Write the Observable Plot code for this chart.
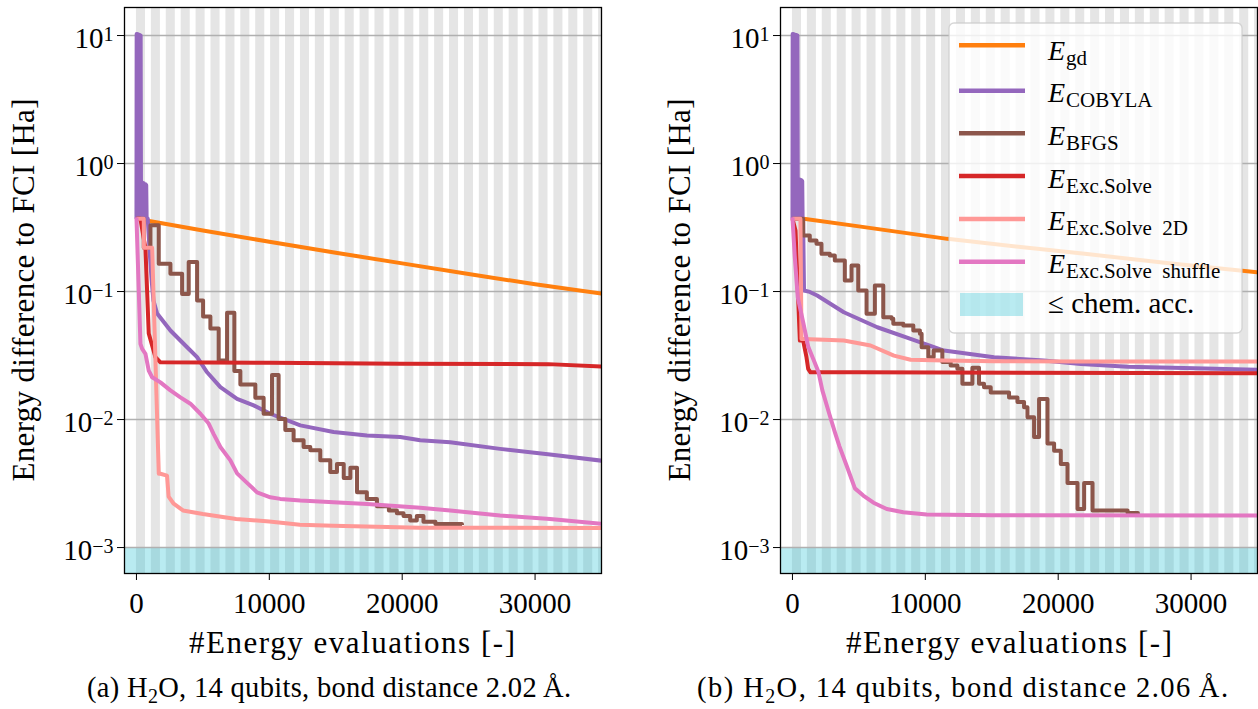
<!DOCTYPE html>
<html><head><meta charset="utf-8">
<script src="https://cdn.jsdelivr.net/npm/d3@7"></script>
<script src="https://cdn.jsdelivr.net/npm/@observablehq/plot@0.6"></script>
<style>
body{margin:0;background:#fff;}
#fig{position:relative;width:1258px;height:709px;overflow:hidden;}
#fig > svg{position:absolute;top:0;}
#fig svg, #fig svg text, #fig svg tspan{font-family:"Liberation Serif", serif !important;}
</style>
</head><body>
<div id="fig"></div>
<script>
const FONT = '"Liberation Serif", serif';
const xDomain = [-900, 35000];
const yDomain = [6.27e-4, 16.56];
const xTicks = [0, 10000, 20000, 30000];
const yTicks = [10, 1, 0.1, 0.01, 0.001];
const chemAcc = 0.001;
const stripeStarts = [0,1122,2244,3366,4488,5610,6732,7854,8976,10098,11220,12342,13464,14586,15708,16830,17952,19074,20196,21318,22440,23562,24684,25806,26928,28050,29172,30294,31416,32538,33660,34782];
const stripeWidth = 680;

const names = ["gd","COBYLA","BFGS","Exc.Solve","Exc.Solve 2D","Exc.Solve shuffle"];
const colors = ["#ff7f0e","#9467bd","#8c564b","#d62728","#ff9896","#e377c2"];

// ---------- panel (a) ----------
const gdA = [[0,0.37],[5000,0.3],[10000,0.245],[15000,0.201],[20000,0.166],[25000,0.137],[30000,0.114],[35000,0.0964]];
const cobylaA = [[0,0.37],[15,10.3],[45,0.37],[75,10.25],[105,0.37],[135,10.2],[165,0.37],[195,10.15],[225,0.37],[255,10.1],[285,0.37],[315,10.0],[345,0.37],[375,0.72],[405,0.37],[435,0.71],[465,0.37],[495,0.7],[525,0.37],[555,0.7],[585,0.37],[615,0.69],[645,0.37],[675,0.69],[705,0.37],[735,0.68],[765,0.38],[850,0.37],[1000,0.2],[1150,0.12],[1278,0.0851],[1556,0.0673],[2556,0.0496],[3812,0.0367],[4564,0.0307],[5316,0.0234],[6316,0.0179],[7571,0.0145],[8820,0.0129],[10075,0.0111],[12331,0.0090],[14835,0.0080],[17346,0.0075],[19850,0.0073],[21353,0.0069],[23609,0.00665],[27368,0.0059],[31128,0.00533],[35000,0.00477]];
const bfgsA = [[0,0.37],[550,0.22],[1053,0.33],[1677,0.165],[2556,0.138],[3436,0.0957],[3932,0.170],[4564,0.0851],[5015,0.0639],[5564,0.0514],[6188,0.0289],[6820,0.0682],[7368,0.0240],[7820,0.0188],[8947,0.0148],[9571,0.0111],[10203,0.0223],[10699,0.0101],[11203,0.0083],[11827,0.0069],[12579,0.0061],[13083,0.00575],[13835,0.0048],[14586,0.0039],[15090,0.0045],[15600,0.0035],[16100,0.0042],[16600,0.0027],[17340,0.0024],[18100,0.0021],[19000,0.00195],[19600,0.00185],[20100,0.00176],[20600,0.00163],[21100,0.00176],[21600,0.00159],[22500,0.00153],[24500,0.0015]];
const excA = [[0,0.37],[300,0.37],[677,0.217],[925,0.047],[1429,0.0307],[1805,0.028],[10000,0.0278],[19850,0.0273],[31000,0.0271],[35000,0.0259]];
const exc2dA = [[0,0.37],[550,0.37],[560,0.22],[1180,0.22],[1680,0.00377],[1805,0.00377],[2300,0.00365],[2420,0.0025],[2800,0.0022],[3500,0.00195],[5000,0.00183],[7500,0.00167],[10000,0.0016],[12300,0.00151],[14800,0.00148],[21300,0.00143],[35000,0.00142]];
const shufA = [[0,0.38],[300,0.039],[429,0.0356],[677,0.0326],[925,0.0241],[1180,0.0214],[1805,0.0195],[2556,0.0169],[3308,0.0149],[4060,0.0133],[4812,0.0111],[5436,0.0093],[5812,0.0077],[6316,0.0061],[7068,0.0048],[7571,0.0038],[8323,0.0032],[9075,0.0027],[10075,0.00247],[10827,0.0024],[12331,0.00233],[14835,0.00226],[17346,0.00219],[21353,0.00205],[23609,0.00195],[27368,0.00178],[31128,0.00167],[35000,0.00153]];

// ---------- panel (b) ----------
const gdB = [[0,0.37],[850,0.37],[5000,0.323],[11658,0.258],[17000,0.224],[22000,0.197],[28000,0.168],[35000,0.1416]];
const cobylaB = [[0,0.37],[15,10.3],[45,0.37],[75,10.25],[105,0.37],[135,10.2],[165,0.37],[195,10.15],[225,0.37],[255,10.1],[285,0.37],[315,10.05],[345,0.37],[375,10.0],[405,0.37],[435,0.76],[465,0.37],[495,0.75],[525,0.37],[555,0.75],[585,0.37],[615,0.74],[645,0.37],[675,0.74],[705,0.37],[735,0.73],[765,0.37],[800,0.37],[870,0.102],[1304,0.0993],[1861,0.0931],[3866,0.0689],[6383,0.0526],[8892,0.0427],[11402,0.0346],[15170,0.0307],[18915,0.0289],[21703,0.0272],[25222,0.0259],[30241,0.0252],[35000,0.0245]];
const bfgsB = [[0,0.37],[806,0.274],[1304,0.250],[1809,0.236],[2185,0.197],[2811,0.191],[3188,0.175],[3941,0.122],[4446,0.160],[4951,0.102],[5577,0.067],[6202,0.1114],[6835,0.063],[7461,0.0612],[7589,0.056],[8342,0.0543],[9096,0.0496],[9593,0.0467],[9721,0.0367],[10226,0.0307],[10626,0.0346],[11281,0.0281],[11907,0.0264],[12412,0.0249],[12789,0.019],[13543,0.0254],[14040,0.019],[14417,0.0179],[14922,0.0163],[16301,0.0149],[16934,0.0137],[17431,0.0125],[17687,0.0104],[18185,0.0073],[18561,0.0145],[19194,0.0065],[19692,0.0057],[20196,0.0045],[20701,0.0032],[21454,0.0020],[21952,0.0032],[22585,0.00195],[25223,0.00186],[26000,0.0018]];
const excB = [[0,0.37],[230,0.3],[505,0.056],[560,0.0414],[806,0.0414],[1055,0.0307],[1183,0.0249],[1356,0.0234],[5000,0.0234],[35000,0.0230]];
const exc2dB = [[0,0.37],[600,0.37],[680,0.0426],[852,0.0426],[3866,0.0414],[5878,0.0379],[7634,0.0316],[8892,0.0293],[11402,0.0289],[15170,0.0286],[21703,0.0284],[35000,0.0284]];
const shufB = [[0,0.38],[170,0.19],[400,0.09],[830,0.056],[1190,0.037],[1580,0.0295],[1960,0.0235],[2250,0.0169],[2780,0.011],[3220,0.0078],[3530,0.0062],[4100,0.0043],[4700,0.0029],[5330,0.00255],[6100,0.00224],[7100,0.002],[8342,0.00189],[10100,0.00181],[15000,0.00179],[35000,0.00178]];

const curves = ["linear","linear","step-after","linear","linear","linear"];
const seriesA = [gdA, cobylaA, bfgsA, excA, exc2dA, shufA];
const seriesB = [gdB, cobylaB, bfgsB, excB, exc2dB, shufB];
const NS = "http://www.w3.org/2000/svg";

function tspan(parent, text, attrs = {}) {
  const s = document.createElementNS(NS, "tspan");
  s.textContent = text;
  for (const k in attrs) s.setAttribute(k, attrs[k]);
  parent.appendChild(s);
  return s;
}

function makePanel(series, left, marginLeft, marginRight) {
  const p = Plot.plot({
    width: 629, height: 625,
    marginLeft, marginRight, marginTop: 7, marginBottom: 52,
    style: {fontFamily: FONT, fontSize: "29px", background: "transparent", overflow: "visible", color: "#000"},
    x: {domain: xDomain, ticks: xTicks, tickFormat: d3.format("d"), tickSize: 7, tickPadding: 12, label: null},
    y: {type: "log", domain: yDomain, ticks: yTicks, tickFormat: d => "10^" + Math.round(Math.log10(d)), tickSize: 7, tickPadding: 4, label: null},
    marks: [
      Plot.rect(stripeStarts, {x1: d => d, x2: d => d + stripeWidth, y1: () => yDomain[0], y2: () => yDomain[1], fill: "#e5e5e5", clip: true}),
      Plot.rect([chemAcc], {x1: () => xDomain[0], x2: () => xDomain[1], y1: () => yDomain[0], y2: d => d, fill: "#17becf", fillOpacity: 0.3}),
      Plot.ruleY(yTicks, {stroke: "#b0b0b0", strokeWidth: 1.5}),
      ...series.map((s, i) => Plot.line(s, {x: d => d[0], y: d => d[1], stroke: colors[i], strokeWidth: 4, curve: curves[i], strokeLinejoin: "round", strokeLinecap: "butt", clip: true})),
      Plot.frame({stroke: "#000", strokeWidth: 1.3})
    ]
  });
  p.style.left = left + "px";
  p.querySelectorAll('[aria-label="y-axis tick label"] text').forEach(t => {
    const exp = t.textContent.split("^")[1].replace("-", "\u2212");
    t.textContent = "";
    t.setAttribute("y", "0.42em");
    tspan(t, "10");
    tspan(t, exp, {"font-size": "20px", dy: "-7"});
  });
  p.querySelectorAll('[aria-label="x-axis tick label"] text').forEach(t => {
    const s = t.textContent; t.textContent = ""; tspan(t, s);
  });
  return p;
}

const fig = document.getElementById("fig");
fig.appendChild(makePanel(seriesA, 0, 124, 28));
fig.appendChild(makePanel(seriesB, 629, 151, 1));

// overlay: axis titles, captions, legend
const ov = d3.select(fig).append("svg").attr("width", 1258).attr("height", 709)
  .style("left", "0px").attr("font-family", FONT).attr("fill", "#000");

const yTitle = "Energy difference to FCI [Ha]";
const xTitle = "#Energy evaluations [-]";
[[33.5, 290], [689.5, 290]].forEach(([x, y]) => {
  ov.append("text").attr("transform", `translate(${x},${y}) rotate(-90)`).attr("text-anchor", "middle")
    .attr("font-size", 31).attr("textLength", 383).attr("lengthAdjust", "spacing")
    .append("tspan").text(yTitle);
});
[189, 846].forEach(x => {
  ov.append("text").attr("x", x).attr("y", 653).attr("font-size", 31)
    .attr("textLength", 326).attr("lengthAdjust", "spacing").append("tspan").text(xTitle);
});
const captions = [["(a)", "2.02", 87, 484], ["(b)", "2.06", 697, 531]];
captions.forEach(([lab, dist, x, w]) => {
  const t = ov.append("text").attr("x", x).attr("y", 697).attr("font-size", 28.5)
    .attr("textLength", w).attr("lengthAdjust", "spacing");
  t.append("tspan").text(lab + " H");
  t.append("tspan").attr("font-size", 20).attr("dy", 6).text("2");
  t.append("tspan").attr("dy", -6).text(`O, 14 qubits, bond distance ${dist}\u2009\u00C5.`);
});

// legend
const lg = ov.append("g");
lg.append("rect").attr("x", 949).attr("y", 23).attr("width", 293).attr("height", 310).attr("rx", 5)
  .attr("fill", "#fff").attr("fill-opacity", 0.8).attr("stroke", "#cccccc").attr("stroke-opacity", 0.8).attr("stroke-width", 1.3);
const lineY = [45.3, 90.7, 133.3, 176, 219, 261.7];
const baseY = [60, 101.7, 145, 188.3, 230, 272.7];
names.forEach((n, i) => {
  lg.append("line").attr("x1", 959).attr("x2", 1025).attr("y1", lineY[i]).attr("y2", lineY[i])
    .attr("stroke", colors[i]).attr("stroke-width", 4.5);
  const t = lg.append("text").attr("x", 1048).attr("y", baseY[i]).attr("font-size", 28);
  t.append("tspan").attr("font-style", "italic").text("E");
  t.append("tspan").attr("font-size", 21).attr("dy", 5).attr("dx", 1).text(n.replace(" ", "\u2002"));
});
lg.append("rect").attr("x", 960).attr("y", 293).attr("width", 63).attr("height", 23)
  .attr("fill", "#17becf").attr("fill-opacity", 0.3);
lg.append("text").attr("x", 1048).attr("y", 313).attr("font-size", 29).append("tspan").text("\u2264 chem. acc.");
</script>
</body></html>
